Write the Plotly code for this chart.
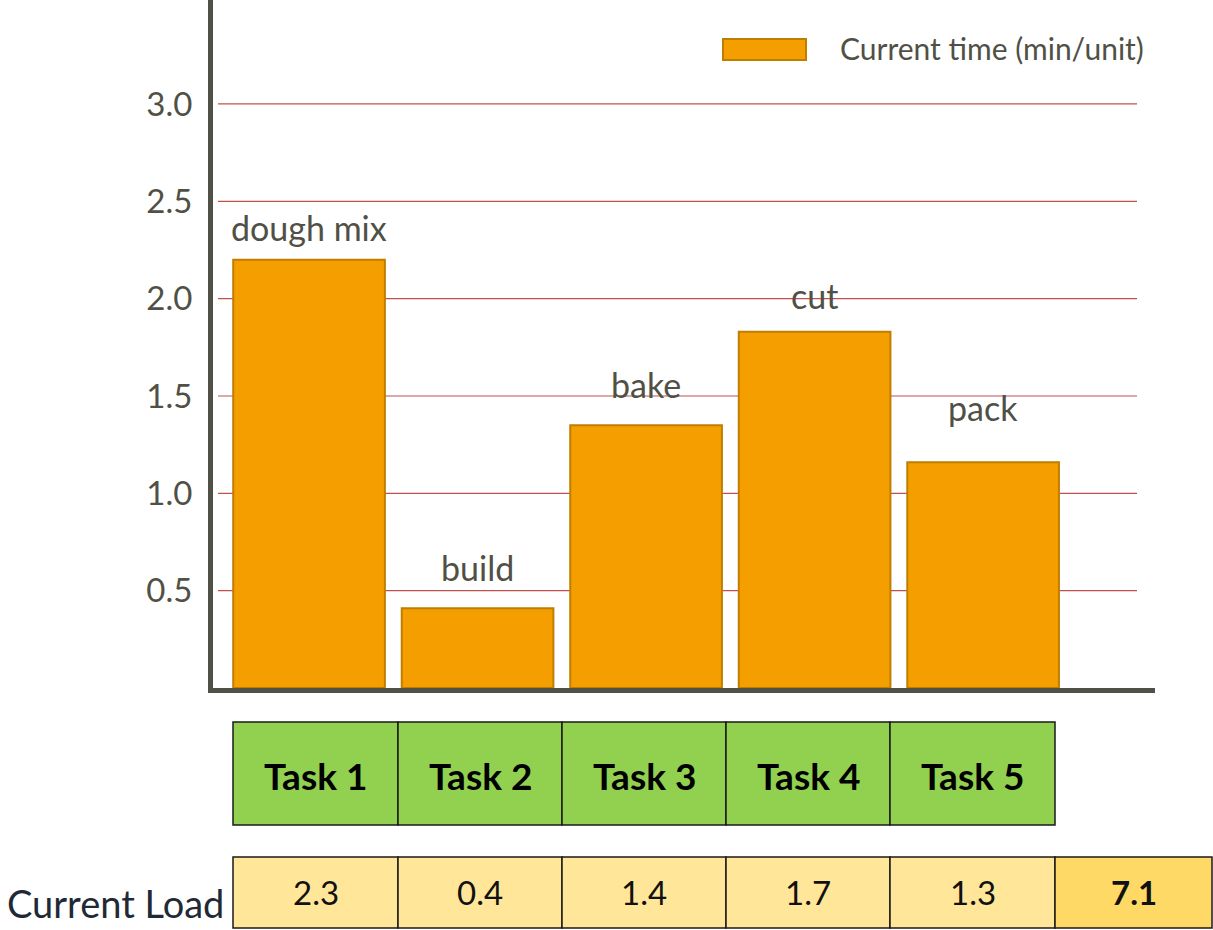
import plotly.graph_objects as go

# ---- data ----
tasks = ["Task 1", "Task 2", "Task 3", "Task 4", "Task 5"]
steps = ["dough mix", "build", "bake", "cut", "pack"]
current_time = [2.20, 0.41, 1.35, 1.83, 1.16]
current_load = ["2.3", "0.4", "1.4", "1.7", "1.3"]
load_total = "7.1"
y_ticks = [0.5, 1.0, 1.5, 2.0, 2.5, 3.0]
series_name = "Current time (min/unit)"
row_label = "Current Load"

# label placement (pixels above bar top) - layout only
label_shift = [10, 18, 18, 14, 32]

FONT = "Lato"
GREY = "#505046"
W, H = 1213, 930
ML, MR, MT, MB = 213, 58, 0, 242
PW, PH = W - ML - MR, H - MT - MB


def px(x):
    return (x - ML) / PW


def py(y):
    return (H - MB - y) / PH


fig = go.Figure()
fig.add_trace(go.Bar(
    x=tasks, y=current_time, name=series_name, width=0.9,
    marker=dict(color="#F59E00", line=dict(color="#C07E00", width=2)),
    showlegend=False,
))

shapes = []
annotations = []

# gridlines
for t in y_ticks:
    shapes.append(dict(type="line", xref="paper", yref="y", x0=px(218), x1=px(1137),
                       y0=t, y1=t, line=dict(color="#C0504D", width=1.2), layer="below"))

# bar labels
for t, s, v, sh in zip(tasks, steps, current_time, label_shift):
    annotations.append(dict(x=t, y=v, xref="x", yref="y", text=s, showarrow=False,
                            yanchor="bottom", yshift=sh,
                            font=dict(family=FONT, size=34, color=GREY)))

# legend
shapes.append(dict(type="rect", xref="paper", yref="paper", x0=px(723), x1=px(806),
                   y0=py(60), y1=py(39), fillcolor="#F59E00",
                   line=dict(color="#C07E00", width=2)))
annotations.append(dict(x=px(838), y=py(48), xref="paper", yref="paper", text=series_name,
                        showarrow=False, xanchor="left", yanchor="middle",
                        font=dict(family=FONT, size=30, color=GREY)))

# task row
cols = [233, 398, 562, 726, 890, 1055, 1212]
for i, t in enumerate(tasks):
    shapes.append(dict(type="rect", xref="paper", yref="paper", x0=px(cols[i]), x1=px(cols[i + 1]),
                       y0=py(825), y1=py(722), fillcolor="#92D050",
                       line=dict(color="#1a1a1a", width=1.5)))
    annotations.append(dict(x=px((cols[i] + cols[i + 1]) / 2), y=py(775), xref="paper", yref="paper",
                            text="<b>%s</b>" % t, showarrow=False, xanchor="center", yanchor="middle",
                            font=dict(family=FONT, size=37, color="#000000")))

# load row
loads = current_load + [load_total]
for i, v in enumerate(loads):
    last = i == len(loads) - 1
    shapes.append(dict(type="rect", xref="paper", yref="paper", x0=px(cols[i]), x1=px(cols[i + 1]),
                       y0=py(928), y1=py(857), fillcolor="#FFD966" if last else "#FFE699",
                       line=dict(color="#1a1a1a", width=1.5)))
    annotations.append(dict(x=px((cols[i] + cols[i + 1]) / 2), y=py(892), xref="paper", yref="paper",
                            text=("<b>%s</b>" % v) if last else v, showarrow=False,
                            xanchor="center", yanchor="middle",
                            font=dict(family=FONT, size=33, color="#111111")))

annotations.append(dict(x=px(226), y=py(903), xref="paper", yref="paper", text=row_label,
                        showarrow=False, xanchor="right", yanchor="middle",
                        font=dict(family=FONT, size=38, color="#1F2A36")))

fig.update_layout(
    width=W, height=H,
    margin=dict(l=ML, r=MR, t=MT, b=MB),
    paper_bgcolor="white", plot_bgcolor="white",
    shapes=shapes, annotations=annotations,
    font=dict(family=FONT, color=GREY),
    bargap=0.1,
)
fig.update_xaxes(range=[-0.57, 5.02], showticklabels=False, showgrid=False,
                 showline=True, linewidth=5, linecolor=GREY, zeroline=False, ticks="")
fig.update_yaxes(range=[0, 3.534], tickvals=y_ticks, ticktext=["%.1f" % t for t in y_ticks],
                 showgrid=False, zeroline=False, showline=True, linewidth=5, linecolor=GREY,
                 ticks="", ticklabelstandoff=9, tickfont=dict(family=FONT, size=33, color=GREY))

fig.write_html("out.html", config={"displayModeBar": False},
               post_script="document.body.style.margin='0px';document.body.style.overflow='hidden';")
